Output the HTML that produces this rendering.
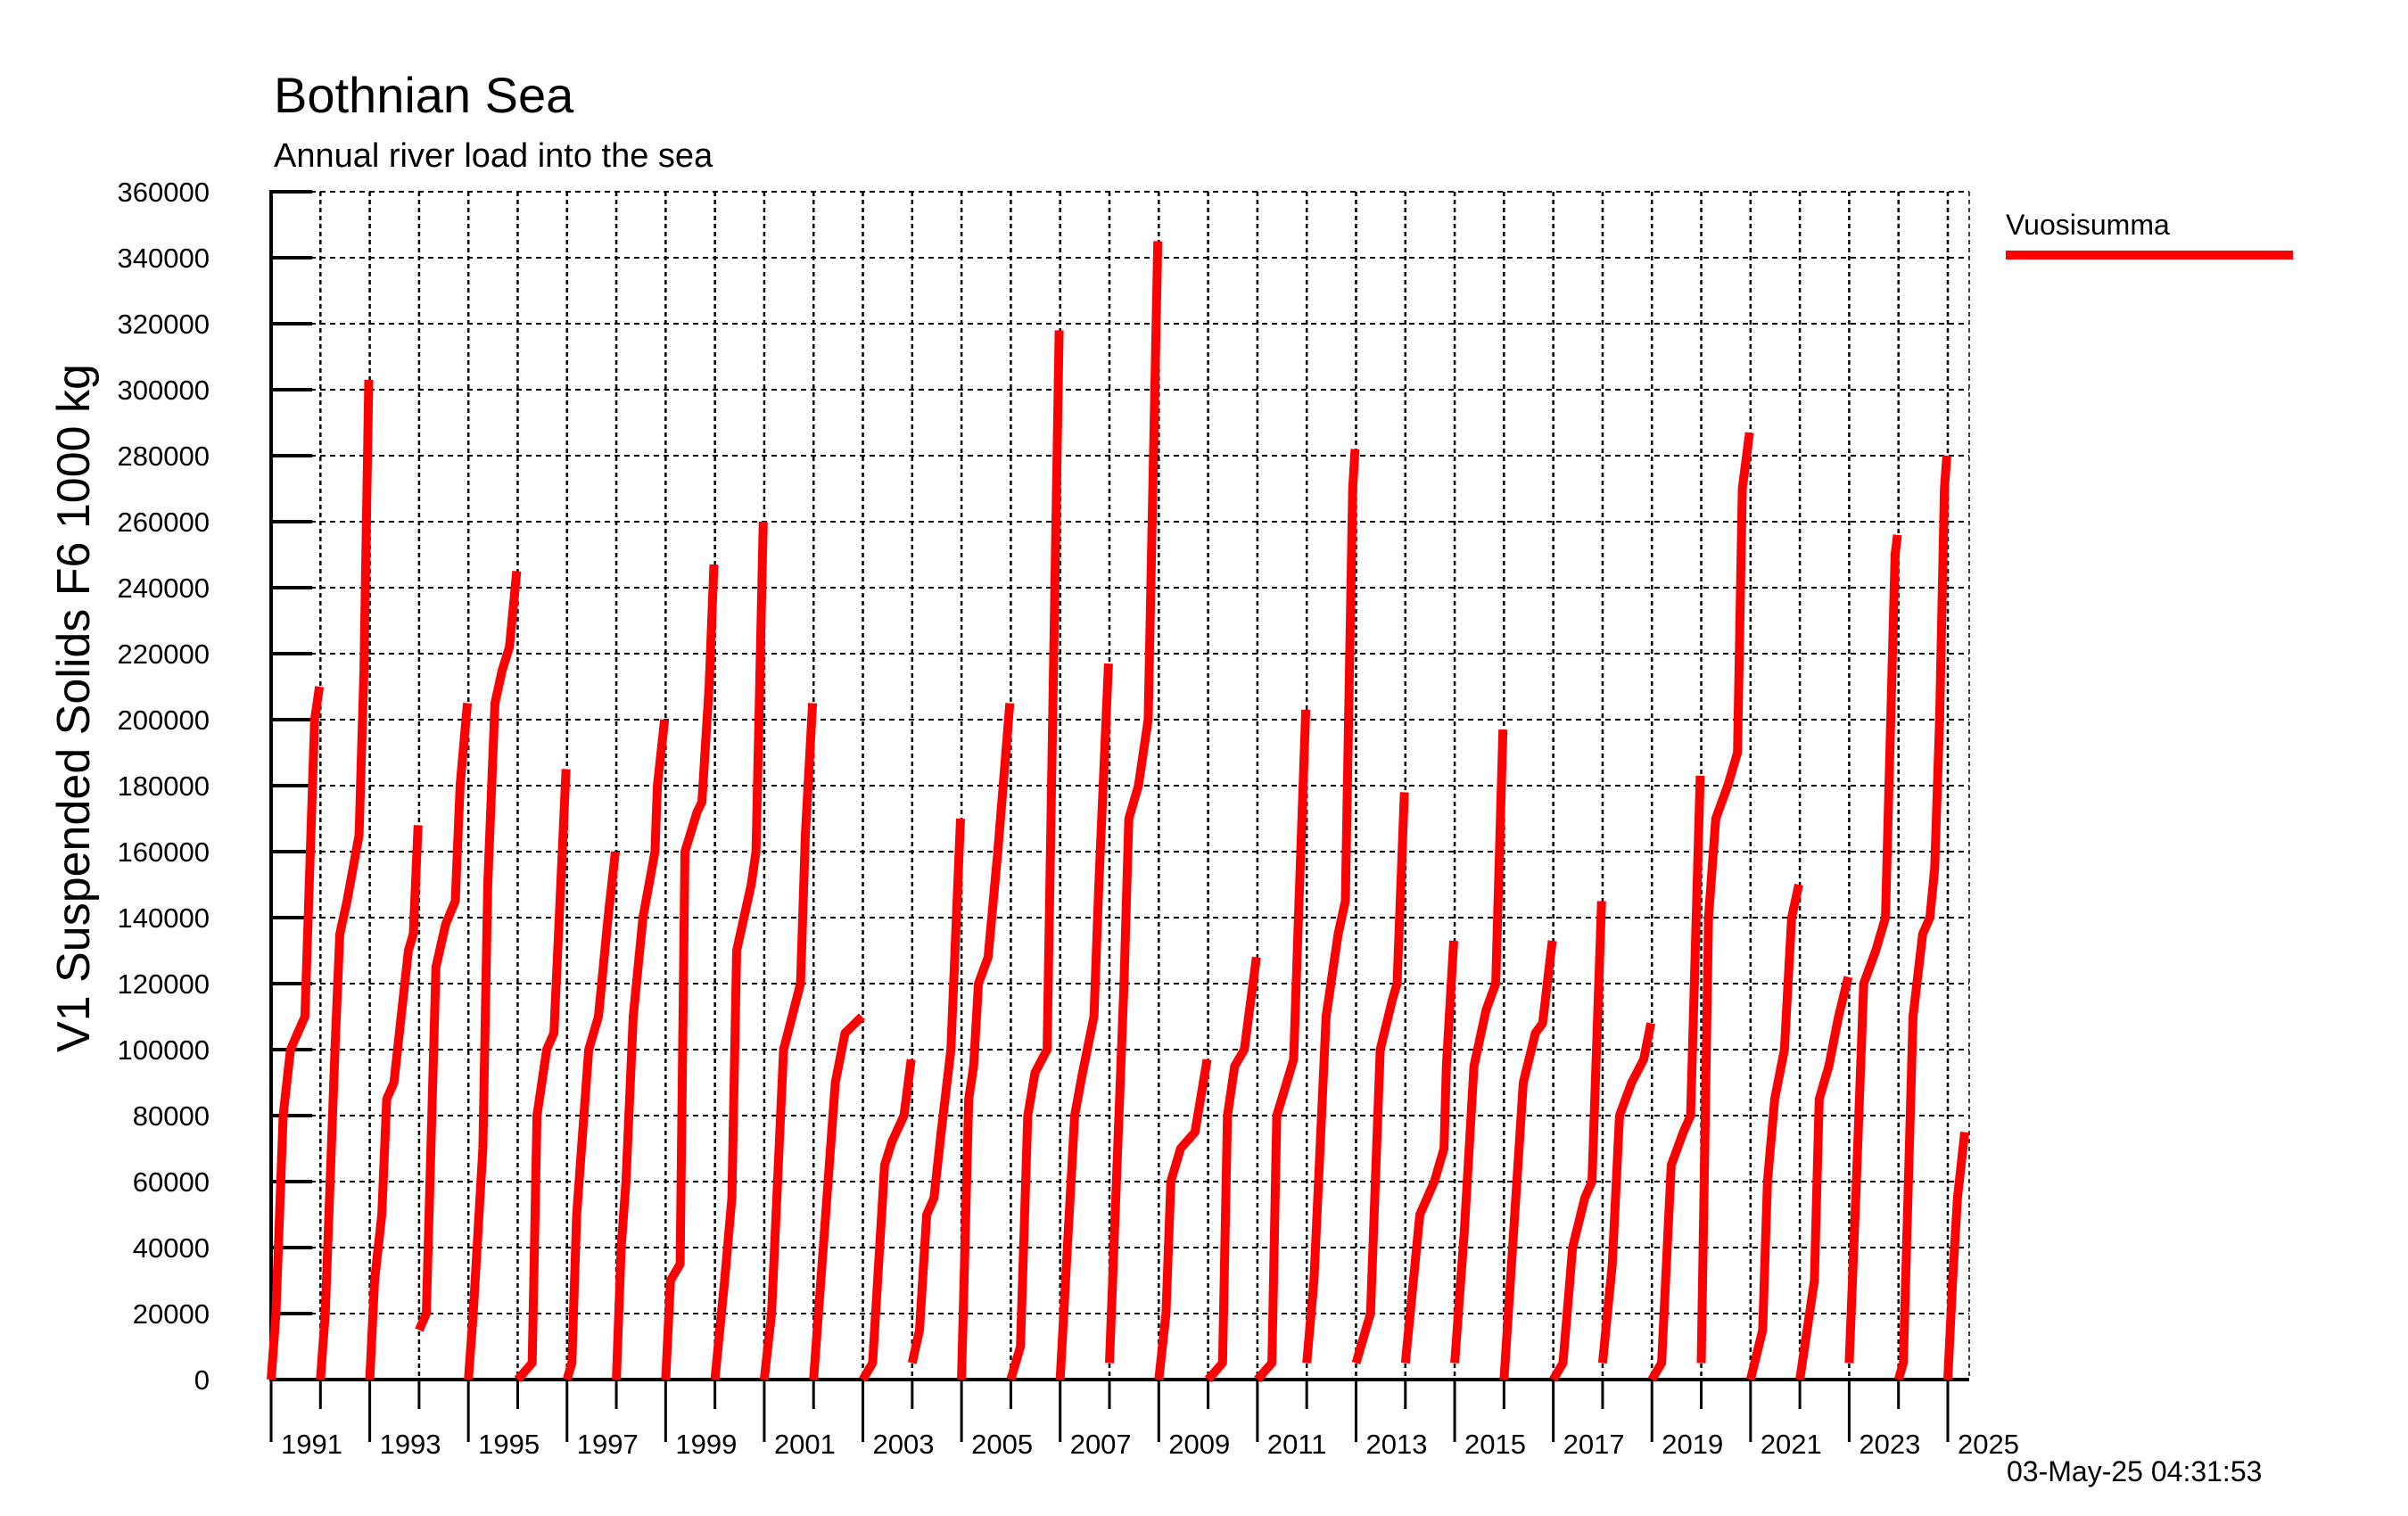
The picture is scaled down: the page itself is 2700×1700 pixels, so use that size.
<!DOCTYPE html>
<html><head><meta charset="utf-8"><style>
html,body{margin:0;padding:0;background:#fff;}
svg{display:block;font-family:"Liberation Sans",sans-serif;}
</style></head><body>
<svg id="chart" width="2700" height="1700" viewBox="0 0 2700 1700" xmlns="http://www.w3.org/2000/svg">
<text x="307" y="126" font-size="56">Bothnian Sea</text>
<text x="307" y="187" font-size="38">Annual river load into the sea</text>
<text transform="translate(100,794) rotate(-90)" text-anchor="middle" font-size="52">V1 Suspended Solids F6 1000 kg</text>
<g id="grid"></g>
<g id="axes"></g>
<g id="series"></g>
<g>
<text x="2249" y="263" font-size="32">Vuosisumma</text>
<line x1="2249" y1="286" x2="2571" y2="286" stroke="#ff0000" stroke-width="10"/>
</g>
<text x="2250" y="1661" font-size="32">03-May-25 04:31:53</text>
</svg>
<script>
const years = [1991,1992,1993,1994,1995,1996,1997,1998,1999,2000,2001,2002,2003,2004,2005,2006,2007,2008,2009,2010,2011,2012,2013,2014,2015,2016,2017,2018,2019,2020,2021,2022,2023,2024,2025];
// per-year cumulative points: [fraction of year, value in 1000 kg]
const yearFractions = [
[0,0.1,0.25,0.4,0.7,0.9,1],
[0,0.1,0.3,0.4,0.55,0.8,0.9,1],
[0,0.1,0.25,0.35,0.5,0.65,0.8,0.9,1],
[0,0.15,0.35,0.55,0.75,0.85,1],
[0,0.1,0.3,0.4,0.55,0.7,0.85,1],
[0,0.3,0.4,0.6,0.75,1],
[0,0.1,0.2,0.3,0.45,0.65,0.85,1],
[0,0.1,0.2,0.35,0.55,0.8,0.85,1],
[0,0.1,0.3,0.4,0.65,0.75,0.9,1],
[0,0.2,0.35,0.45,0.75,0.85,1],
[0,0.15,0.4,0.75,0.85,1],
[0,0.2,0.45,0.65,1],
[0,0.2,0.45,0.6,0.85,1],
[0,0.15,0.3,0.45,0.6,0.8,1],
[0,0.15,0.25,0.35,0.55,0.75,1],
[0,0.2,0.35,0.5,0.75,1],
[0,0.15,0.3,0.45,0.7,0.8,1],
[0,0.3,0.4,0.6,0.8,1],
[0,0.15,0.25,0.45,0.75,1],
[0,0.3,0.4,0.55,0.75,1],
[0,0.3,0.4,0.75,0.85,1],
[0,0.15,0.4,0.65,0.8,0.95,1],
[0,0.3,0.5,0.75,0.85,1],
[0,0.3,0.6,0.8,0.85,1],
[0,0.2,0.4,0.65,0.85,1],
[0,0.2,0.4,0.65,0.8,1],
[0,0.2,0.4,0.65,0.8,1],
[0,0.2,0.35,0.6,0.85,1],
[0,0.2,0.4,0.65,0.8,1],
[0,0.15,0.3,0.55,0.75,0.85,1],
[0,0.25,0.35,0.5,0.7,0.85,1],
[0,0.3,0.4,0.6,0.8,1],
[0,0.15,0.3,0.55,0.75,0.95,1],
[0,0.1,0.3,0.5,0.65,0.75,0.85,0.95,1],
[0,0.1,0.2,0.35]
];
const yearValues = [
[0,20,80,100,110,200,210],
[0,20,100,135,145,165,215,303],
[0,30,50,85,90,110,130,135,168],
[15,20,125,138,145,180,205],
[0,20,70,150,205,215,222,245],
[0,5,80,100,105,185],
[0,5,50,70,100,110,140,160],
[0,40,60,110,140,160,180,200],
[0,30,35,160,172,175,210,247],
[0,30,55,130,150,160,260],
[0,20,100,120,165,205],
[0,40,90,105,110],
[0,5,65,72,80,97],
[5,15,50,55,75,100,170],
[0,85,95,120,128,160,205],
[0,10,80,93,100,318],
[0,40,80,92,110,150,217],
[5,120,170,180,200,345],
[0,20,60,70,75,97],
[0,5,80,95,100,128],
[0,5,80,97,140,203],
[5,30,110,135,145,270,282],
[5,20,100,115,120,178],
[5,50,60,70,95,133],
[5,45,95,112,120,197],
[0,45,90,105,108,133],
[0,5,40,55,60,145],
[5,35,80,90,97,108],
[0,5,65,75,80,183],
[5,140,170,180,190,270,287],
[0,15,60,85,100,140,150],
[0,30,85,95,110,122],
[5,60,120,130,140,250,256],
[0,5,110,135,140,155,200,270,280],
[0,30,55,75]
];
const yTicks = [0,20000,40000,60000,80000,100000,120000,140000,160000,180000,200000,220000,240000,260000,280000,300000,320000,340000,360000];
const xLabels = [1991,1993,1995,1997,1999,2001,2003,2005,2007,2009,2011,2013,2015,2017,2019,2021,2023,2025];

const NS = "http://www.w3.org/2000/svg";
const X0 = 304, X1 = 2208, Y0 = 1547, YT = 215;
const T0 = 1991, PXY = (2184 - 304) / 34;
function xs(t){ return X0 + (t - T0) * PXY; }
function ys(v){ return Y0 - (v / 360000) * (Y0 - YT); }
function mk(tag, attrs, parent){
  const e = document.createElementNS(NS, tag);
  for (const k in attrs) e.setAttribute(k, attrs[k]);
  parent.appendChild(e); return e;
}
const grid = document.getElementById('grid');
const axes = document.getElementById('axes');
const series = document.getElementById('series');

yTicks.forEach(v => {
  const y = ys(v);
  if (v > 0) {
    const g = mk('line', {x1:X0, y1:y, x2:X1, y2:y, stroke:'#000', 'stroke-width':2, 'stroke-dasharray':'6,5'}, grid);
    
    
  }
  const tk = mk('line', {x1:X0, y1:y, x2:X0+46, y2:y, stroke:'#000', 'stroke-width':4}, axes);
  
  
  const lb = mk('text', {x:235, y:y+11, 'text-anchor':'end', 'font-size':31}, axes);
  lb.textContent = String(v);
  
  
});
for (let yr = 1992; yr <= 2025; yr++) {
  const x = xs(yr);
  const g = mk('line', {x1:x, y1:YT, x2:x, y2:Y0, stroke:'#000', 'stroke-width':2.5, 'stroke-dasharray':'5,4'}, grid);
  
  
}
const rb = mk('line', {x1:X1, y1:YT, x2:X1, y2:Y0, stroke:'#000', 'stroke-width':1.5, 'stroke-dasharray':'5,4'}, grid);


for (let yr = 1991; yr <= 2025; yr++) {
  const x = xs(yr);
  const long = (yr % 2 === 1);
  const t = mk('line', {x1:x, y1:Y0, x2:x, y2: long ? 1617 : 1580, stroke:'#000', 'stroke-width':3}, axes);
  
  
}
xLabels.forEach(yr => {
  const l = mk('text', {x:xs(yr)+11, y:1630, 'font-size':31}, axes);
  l.textContent = String(yr);
  
  
});
const ya = mk('line', {x1:X0, y1:YT-2, x2:X0, y2:Y0+2, stroke:'#000', 'stroke-width':4}, axes);


const xa = mk('line', {x1:X0, y1:Y0, x2:X1, y2:Y0, stroke:'#000', 'stroke-width':4}, axes);



years.forEach((yr, i) => {
  const f = yearFractions[i], v = yearValues[i];
  const pts = f.map((fr, j) => xs(yr + fr*0.98).toFixed(1) + ',' + ys(v[j]*1000).toFixed(1)).join(' ');
  const p = mk('polyline', {points:pts, fill:'none', stroke:'#ff0000', 'stroke-width':10, 'stroke-linejoin':'round'}, series);
  
  
});
</script>
</body></html>
